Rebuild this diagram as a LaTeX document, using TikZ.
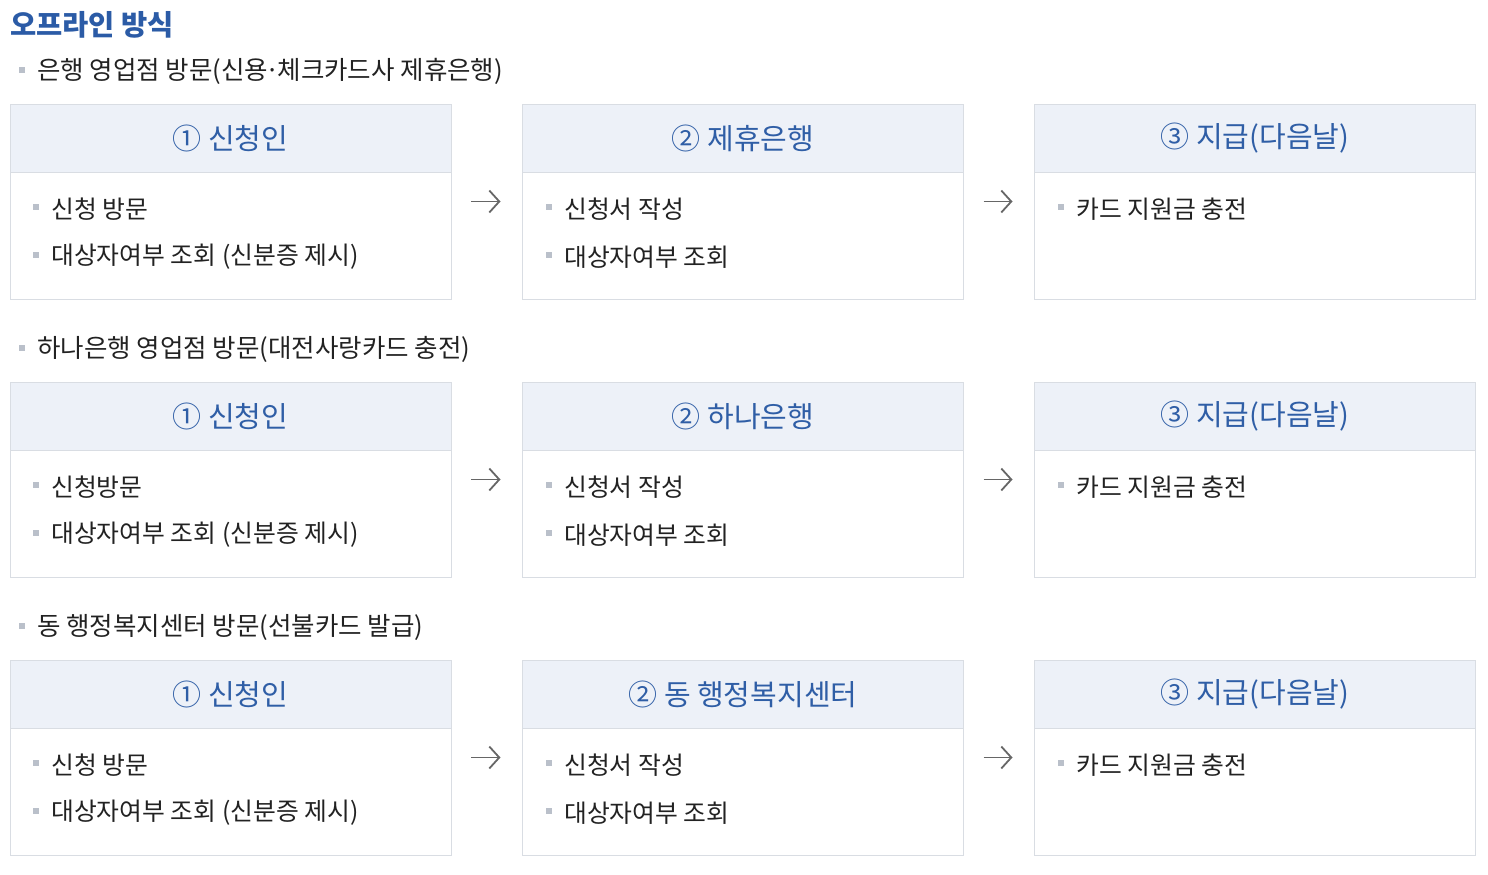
\documentclass[tikz,border=0pt]{standalone}
\usepackage{fontspec}
\setmainfont{Noto Sans CJK KR}
\usetikzlibrary{arrows.meta}
\definecolor{titleblue}{HTML}{2B5BA6}
\definecolor{headblue}{HTML}{2F5EA6}
\definecolor{headbg}{HTML}{EDF1F8}
\definecolor{bordc}{HTML}{D9DDE3}
\definecolor{bulc}{HTML}{BAC0CA}
\definecolor{txtc}{HTML}{222222}
\definecolor{arrc}{HTML}{666666}
\tikzset{
  box/.style={draw=bordc,line width=1pt,minimum width=441pt,minimum height=195pt,inner sep=0pt,outer sep=0pt},
  head/.style={draw=bordc,fill=headbg,line width=1pt,minimum width=441pt,minimum height=68pt,inner sep=0pt,outer sep=0pt,anchor=north,text=headblue,font=\fontsize{29}{33}\selectfont},
  bul/.style={fill=bulc,minimum width=6pt,minimum height=6pt,inner sep=0pt,outer sep=0pt},
  item/.style={anchor=west,inner sep=0pt,text=txtc,font=\fontsize{24.8}{28}\selectfont},
  sec/.style={anchor=west,inner sep=0pt,text=txtc,font=\fontsize{25.5}{29}\selectfont},
  flow/.style={draw=arrc,line width=1.8pt,-{Straight Barb[length=10pt,width=22pt]},shorten <=20pt,shorten >=22pt},
}
\begin{document}
\begin{tikzpicture}[x=1pt,y=-1pt]
\useasboundingbox (0,0) rectangle (1488,875);
% title
\node[anchor=west,inner sep=0pt,text=titleblue,font=\fontsize{28.5}{33}\selectfont\bfseries] (title) at (10,25) {오프라인 방식};

% ---------- row 1 ----------
\node[bul] (s1b) at (22,70) {};
\node[sec] (s1) at (37,71) {은행 영업점 방문(신용\kern-0.1em·\kern-0.1em체크카드사 제휴은행)};
\node[box] (b11) at (230.5,201.5) {};
\node[box] (b12) at (743,201.5) {};
\node[box] (b13) at (1255,201.5) {};
\node[head] (h11) at (b11.north) {① 신청인};
\node[head] (h12) at (b12.north) {② 제휴은행};
\node[head] (h13) at (b13.north) {③ 지급(다음날)};
\node[bul] (i111b) at (36,207) {};
\node[item] (i111) at (51,209) {신청 방문};
\node[bul] (i112b) at (36,255) {};
\node[item] (i112) at (51,257) {대상자여부 조회 (신분증 제시)};
\node[bul] (i121b) at (549,207) {};
\node[item] (i121) at (564,209) {신청서 작성};
\node[bul] (i122b) at (549,255) {};
\node[item] (i122) at (564,257) {대상자여부 조회};
\node[bul] (i131b) at (1061,207) {};
\node[item] (i131) at (1076,209) {카드 지원금 충전};
\draw[flow] (b11.east) -- (b12.west);
\draw[flow] (b12.east) -- (b13.west);

% ---------- row 2 ----------
\node[bul] (s2b) at (22,348) {};
\node[sec] (s2) at (37,349) {하나은행 영업점 방문(대전사랑카드 충전)};
\node[box] (b21) at (230.5,479.5) {};
\node[box] (b22) at (743,479.5) {};
\node[box] (b23) at (1255,479.5) {};
\node[head] (h21) at (b21.north) {① 신청인};
\node[head] (h22) at (b22.north) {② 하나은행};
\node[head] (h23) at (b23.north) {③ 지급(다음날)};
\node[bul] (i211b) at (36,485) {};
\node[item] (i211) at (51,487) {신청방문};
\node[bul] (i212b) at (36,533) {};
\node[item] (i212) at (51,535) {대상자여부 조회 (신분증 제시)};
\node[bul] (i221b) at (549,485) {};
\node[item] (i221) at (564,487) {신청서 작성};
\node[bul] (i222b) at (549,533) {};
\node[item] (i222) at (564,535) {대상자여부 조회};
\node[bul] (i231b) at (1061,485) {};
\node[item] (i231) at (1076,487) {카드 지원금 충전};
\draw[flow] (b21.east) -- (b22.west);
\draw[flow] (b22.east) -- (b23.west);

% ---------- row 3 ----------
\node[bul] (s3b) at (22,626) {};
\node[sec] (s3) at (37,627) {동 행정복지센터 방문(선불카드 발급)};
\node[box] (b31) at (230.5,757.5) {};
\node[box] (b32) at (743,757.5) {};
\node[box] (b33) at (1255,757.5) {};
\node[head] (h31) at (b31.north) {① 신청인};
\node[head] (h32) at (b32.north) {② 동 행정복지센터};
\node[head] (h33) at (b33.north) {③ 지급(다음날)};
\node[bul] (i311b) at (36,763) {};
\node[item] (i311) at (51,765) {신청 방문};
\node[bul] (i312b) at (36,811) {};
\node[item] (i312) at (51,813) {대상자여부 조회 (신분증 제시)};
\node[bul] (i321b) at (549,763) {};
\node[item] (i321) at (564,765) {신청서 작성};
\node[bul] (i322b) at (549,811) {};
\node[item] (i322) at (564,813) {대상자여부 조회};
\node[bul] (i331b) at (1061,763) {};
\node[item] (i331) at (1076,765) {카드 지원금 충전};
\draw[flow] (b31.east) -- (b32.west);
\draw[flow] (b32.east) -- (b33.west);
\end{tikzpicture}
\end{document}
